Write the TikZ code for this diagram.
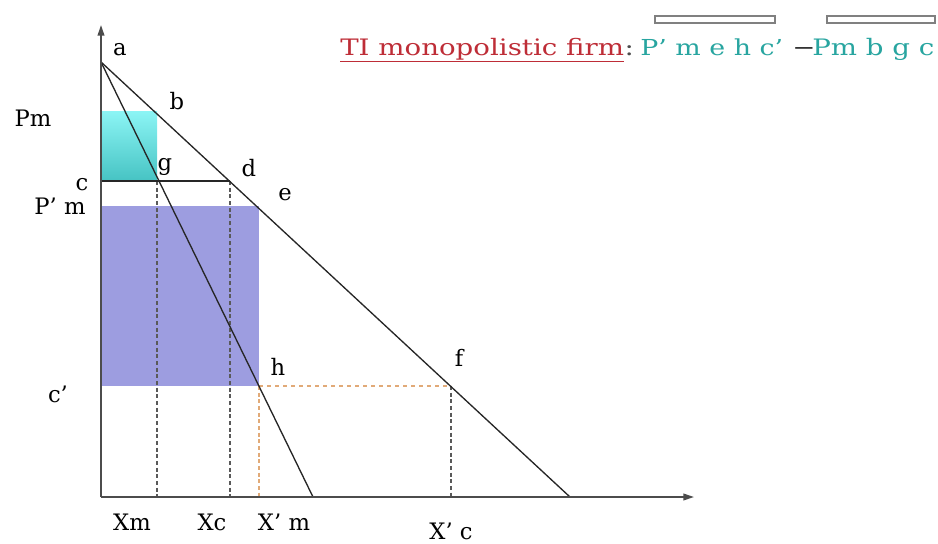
\documentclass[tikz,border=0pt]{standalone}
\usepackage{fontspec}
\setmainfont{DejaVu Serif}
\newfontfamily\lblfont{DejaVu Serif}
\newfontfamily\headfont[FakeStretch=1.22]{DejaVu Serif}
\usetikzlibrary{arrows.meta}
\definecolor{cyantop}{RGB}{140,245,245}
\definecolor{cyanbot}{RGB}{70,195,195}
\definecolor{lavblue}{RGB}{157,157,224}
\definecolor{titlered}{RGB}{190,45,55}
\definecolor{sumteal}{RGB}{40,165,160}
\definecolor{guideor}{RGB}{225,170,120}
\begin{document}
\begin{tikzpicture}[x=0.75pt,y=-0.75pt,
    lbl/.style={font=\lblfont\fontsize{17}{17}\selectfont, inner sep=0pt},
    head/.style={font=\headfont\fontsize{17}{17}\selectfont, inner sep=0pt, anchor=base west},
    guide/.style={densely dashed, gray!70!black, line width=0.8pt},
    curve/.style={black!85, line width=1pt}]
        \useasboundingbox (0,0) rectangle (938,543);
        % Points of the diagram
        \coordinate (O) at (101,497);
        \coordinate (ytop) at (101,25);
        \coordinate (xend) at (694,497);
        \coordinate (a) at (101,62);
        \coordinate (b) at (155,111);
        \coordinate (pm) at (101,111);
        \coordinate (c) at (101,181);
        \coordinate (g) at (157,181);
        \coordinate (d) at (230,181);
        \coordinate (pm2) at (101,206);
        \coordinate (e) at (258,206);
        \coordinate (c2) at (101,386);
        \coordinate (h) at (259,386);
        \coordinate (f) at (451,386);
        \coordinate (xm) at (157,497);
        \coordinate (xc) at (230,497);
        \coordinate (xh) at (259,497);
        \coordinate (xf) at (451,497);
        \coordinate (mrend) at (313,497);
        \coordinate (dend) at (570,497);

        % Shaded areas
        \shade[top color=cyantop, bottom color=cyanbot] (pm) rectangle (g);
        \fill[lavblue] (pm2) rectangle (h);

        % Guide lines
        \draw[guide] (g) -- (xm);
        \draw[guide] (d) -- (xc);
        \draw[guide] (f) -- (xf);
        \draw[densely dashed, guideor, line width=0.8pt] (h) -- (xh);
        \draw[dashed, guideor, line width=0.8pt] (h) -- (f);
        \draw[curve] (c) -- (d);

        % Demand and marginal revenue
        \draw[curve] (a) -- (dend);
        \draw[curve] (a) -- (mrend);

        % Axes
        \draw[black!70, line width=1.3pt, -{Triangle[length=8pt,width=5pt]}] (O) -- (ytop);
        \draw[black!70, line width=1.3pt, -{Triangle[length=8pt,width=5pt]}] (O) -- (xend);

        % Labels
        \node[lbl] (la) at (120,50) {a};
        \node[lbl] (lb) at (177,101) {b};
        \node[lbl] (lg) at (165,167) {g};
        \node[lbl] (ld) at (249,168) {d};
        \node[lbl] (le) at (285,195) {e};
        \node[lbl] (lh) at (278,367) {h};
        \node[lbl] (lf) at (459,358) {f};
        \node[lbl] (lpm) at (33,118) {Pm};
        \node[lbl] (lc) at (82,185) {c};
        \node[lbl] (lpm2) at (60,206) {P’ m};
        \node[lbl] (lc2) at (58,394) {c’};
        \node[lbl] (lxm) at (132,522) {Xm};
        \node[lbl] (lxc) at (212,522) {Xc};
        \node[lbl] (lxm2) at (284,522) {X’ m};
        \node[lbl] (lxc2) at (451,531) {X’ c};

        % Profit expression
        \node[head, text=titlered] (title) at (340,55) {\underline{TI monopolistic firm}};
        \node[head, text=black!70] (colon) at (title.base east) {:};
        \node[head, text=sumteal, font=\headfont\fontsize{16.5}{16.5}\selectfont] (sumA) at (640,55) {P’ m e h c’};
        \node[head, text=black!80] (minus) at (792,55) {−};
        \node[head, text=sumteal] (sumB) at (812,55) {Pm b g c};
        \draw[gray, line width=0.8pt, fill=white] (655,16) rectangle (775,23);
        \draw[gray, line width=0.8pt, fill=white] (827,16) rectangle (935,23);
\end{tikzpicture}
\end{document}
